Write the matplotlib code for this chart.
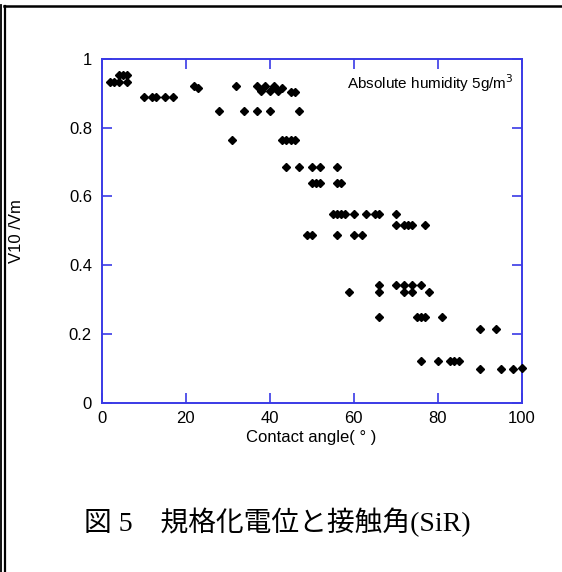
import matplotlib
matplotlib.use("Agg")
import matplotlib.pyplot as plt
from matplotlib.lines import Line2D
from matplotlib.ticker import FuncFormatter

# Contact angle (deg) and normalised potential V10/Vm, one row of readings each
contact_angle = [
    2, 3, 4, 6, 4, 5, 6,
    10, 12, 13, 15, 17,
    22, 23, 32, 28, 31, 34, 37, 40,
    37, 38, 39, 40, 41, 42, 43, 45, 46,
    47, 43, 44, 45, 46,
    44, 47, 50, 52, 56,
    50, 51, 52, 56, 57,
    55, 56, 57, 58, 60, 63, 65, 66, 70,
    70, 72, 73, 74, 77,
    49, 50, 56, 60, 62,
    66, 70, 72, 74, 76,
    59, 66, 72, 74, 78,
    66, 75, 76, 77, 81,
    90, 94,
    76, 80, 83, 84, 85,
    90, 95, 98, 100,
]
v_ratio = [
    0.933, 0.933, 0.933, 0.933, 0.954, 0.954, 0.954,
    0.888, 0.888, 0.888, 0.888, 0.888,
    0.922, 0.915, 0.922, 0.849, 0.764, 0.849, 0.849, 0.849,
    0.920, 0.906, 0.920, 0.906, 0.920, 0.906, 0.915, 0.905, 0.905,
    0.849, 0.764, 0.764, 0.764, 0.764,
    0.687, 0.687, 0.687, 0.687, 0.687,
    0.640, 0.640, 0.640, 0.640, 0.640,
    0.549, 0.549, 0.549, 0.549, 0.549, 0.549, 0.549, 0.549, 0.549,
    0.517, 0.517, 0.517, 0.517, 0.517,
    0.489, 0.489, 0.489, 0.489, 0.489,
    0.343, 0.343, 0.343, 0.343, 0.343,
    0.321, 0.321, 0.321, 0.321, 0.321,
    0.250, 0.250, 0.250, 0.250, 0.250,
    0.214, 0.214,
    0.121, 0.121, 0.121, 0.121, 0.121,
    0.098, 0.098, 0.098, 0.101,
]

x_ticks = [0, 20, 40, 60, 80, 100]
y_ticks = [0, 0.2, 0.4, 0.6, 0.8, 1]

AXIS_BLUE = "#3a3ae6"

plt.rcParams["font.family"] = ["Liberation Sans", "DejaVu Sans"]

fig = plt.figure(figsize=(5.62, 5.72), dpi=100)
ax = fig.add_axes([0.181, 0.296, 0.747, 0.601])

ax.plot(contact_angle, v_ratio, linestyle="none", marker="D",
        markersize=4.0, color="black", clip_on=False, zorder=3)

ax.set_xlim(0, 100)
ax.set_ylim(0, 1)
ax.set_xticks(x_ticks)
ax.set_yticks(y_ticks)
ax.yaxis.set_major_formatter(FuncFormatter(lambda v, _: f"{v:g}"))

for spine in ax.spines.values():
    spine.set_color(AXIS_BLUE)
    spine.set_linewidth(1.4)
ax.tick_params(direction="in", length=7, width=1.2, color=AXIS_BLUE,
               top=True, right=True, labelsize=12, labelcolor="black")
ax.tick_params(axis="x", pad=6)
ax.tick_params(axis="y", pad=7)

ax.set_xlabel("Contact angle( ° )", fontsize=12, labelpad=3)
ax.set_ylabel("V10 /Vm", fontsize=12)
ax.yaxis.set_label_coords(-0.186, 0.5)

ax.text(0.98, 0.96, "Absolute humidity 5g/m$^3$", transform=ax.transAxes,
        ha="right", va="top", fontsize=11)

# caption under the plot: serif for latin, CJK font for the rest
fig.text(0.493, 0.087, "図 5　規格化電位と接触角(SiR)", ha="center",
         va="center", fontsize=20,
         family=["Liberation Serif", "Noto Sans CJK JP", "DejaVu Sans"])

# page frame lines along the top and left edges
W, H = 562, 572
fig.add_artist(Line2D([0.8 / W, 0.8 / W], [0, 1 - 5 / H], color="black",
                      linewidth=1.3, transform=fig.transFigure))
fig.add_artist(Line2D([4.5 / W, 4.5 / W], [0, 1 - 6 / H], color="black",
                      linewidth=1.6, transform=fig.transFigure))
fig.add_artist(Line2D([3.5 / W, 1], [1 - 6 / H, 1 - 6 / H], color="black",
                      linewidth=1.8, transform=fig.transFigure))

fig.savefig("out.png", dpi=100)
plt.close(fig)
